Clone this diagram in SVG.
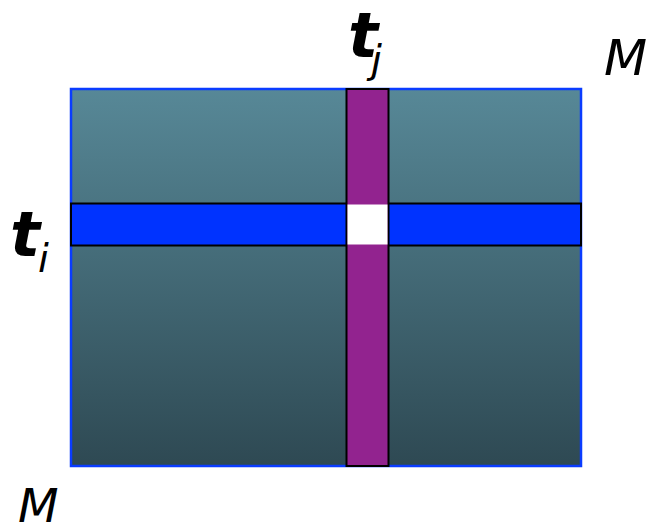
<svg xmlns="http://www.w3.org/2000/svg" width="650" height="530" viewBox="0 0 650 530">
<defs>
<linearGradient id="g" x1="0" y1="0" x2="0" y2="1">
<stop offset="0" stop-color="#578897"/>
<stop offset="1" stop-color="#2e4953"/>
</linearGradient>
</defs>
<style>
.lbl{font-family:"DejaVu Sans",sans-serif;font-style:italic;fill:#000}
.b{font-weight:bold}
</style>
<rect width="650" height="530" fill="#fff"/>
<g id="matrix">
<rect x="71" y="89" width="510" height="377" fill="url(#g)" stroke="#0a3cff" stroke-width="2.5"/>
</g>
<g id="row">
<rect x="71" y="203.5" width="510" height="42" fill="#0033ff" stroke="#000" stroke-width="2"/>
</g>
<g id="col">
<rect x="346.5" y="89" width="42" height="377" fill="#92238f" stroke="#000" stroke-width="2"/>
</g>
<g id="cell">
<rect x="347.5" y="204.5" width="40" height="40" fill="#fff"/>
</g>
<g id="labels">
<text class="lbl b" x="348" y="57" font-size="63">t</text>
<text class="lbl" x="371" y="73" font-size="39">j</text>
<text class="lbl b" x="10" y="256" font-size="63">t</text>
<text class="lbl" x="38" y="272" font-size="39">i</text>
<text class="lbl" x="604" y="75" font-size="50">M</text>
<text class="lbl" x="18" y="522" font-size="47">M</text>
</g>
</svg>
